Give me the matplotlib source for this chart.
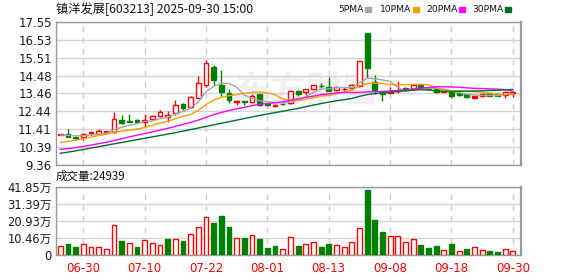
import matplotlib
matplotlib.use('Agg')
import matplotlib.pyplot as plt
from matplotlib.patches import Rectangle
import numpy as np

plt.rcParams['font.family'] = ['DejaVu Sans', 'Noto Sans CJK SC']

# daily candles, 60 trading days (prices in yuan)
opens = [11.10, 11.13, 10.98, 10.97, 11.20, 11.15, 11.25, 11.23, 11.93, 11.86,
         11.93, 11.85, 12.01, 12.18, 12.10, 12.31, 12.86, 12.69, 13.21, 13.93,
         14.98, 13.97, 13.46, 12.98, 13.00, 12.98, 13.40, 12.86, 12.76, 12.87,
         12.89, 13.59, 13.52, 13.74, 13.91, 13.84, 13.65, 13.69, 13.78, 13.89,
         16.90, 14.12, 13.55, 13.50, 13.58, 13.76, 13.74, 13.93, 13.78, 13.74,
         13.55, 13.59, 13.46, 13.40, 13.21, 13.30, 13.46, 13.40, 13.36, 13.46]
highs = [11.16, 11.42, 10.98, 11.20, 11.32, 11.40, 11.33, 12.39, 12.20, 12.26,
         12.02, 12.30, 12.22, 12.50, 12.47, 13.10, 12.93, 13.34, 14.45, 15.36,
         15.10, 14.79, 13.70, 13.06, 13.00, 13.40, 13.40, 12.92, 12.88, 12.92,
         13.65, 13.65, 13.71, 13.97, 14.07, 14.40, 13.86, 13.80, 13.98, 15.30,
         16.90, 14.50, 13.65, 13.84, 14.15, 13.85, 13.99, 13.95, 13.80, 13.76,
         13.62, 13.60, 13.48, 13.42, 13.34, 13.44, 13.48, 13.42, 13.57, 13.58]
lows = [11.07, 10.96, 10.79, 10.79, 11.05, 11.13, 11.22, 11.17, 11.70, 11.80,
        11.75, 11.52, 11.96, 12.10, 11.82, 12.25, 12.50, 12.60, 13.17, 13.85,
        13.97, 13.30, 12.89, 12.78, 12.82, 12.90, 12.72, 12.76, 12.68, 12.80,
        12.83, 13.32, 13.39, 13.68, 13.77, 13.57, 13.57, 13.60, 13.68, 13.82,
        14.32, 13.45, 13.02, 13.46, 13.49, 13.68, 13.72, 13.76, 13.66, 13.46,
        13.52, 13.20, 13.30, 13.18, 13.17, 13.25, 13.30, 13.32, 13.20, 13.28]
closes = [11.12, 10.98, 10.89, 11.13, 11.25, 11.30, 11.28, 11.97, 11.78, 11.80,
          11.80, 11.92, 12.16, 12.37, 12.20, 12.77, 12.60, 13.23, 14.03, 15.23,
          14.22, 13.55, 13.08, 13.02, 12.97, 13.30, 12.79, 12.80, 12.79, 12.85,
          13.59, 13.42, 13.71, 13.97, 13.88, 13.61, 13.80, 13.72, 13.93, 15.30,
          14.89, 13.65, 13.40, 13.53, 13.61, 13.73, 13.97, 13.78, 13.69, 13.55,
          13.58, 13.32, 13.36, 13.26, 13.32, 13.42, 13.32, 13.34, 13.55, 13.55]
solid_red = [54, 55]

# moving averages
ma5 = [11.08, 11.06, 11.03, 11.05, 11.07, 11.11, 11.17, 11.39, 11.52, 11.63,
       11.73, 11.85, 11.89, 12.01, 12.09, 12.28, 12.42, 12.63, 12.97, 13.57,
       13.86, 14.05, 14.02, 13.82, 13.37, 13.18, 13.03, 12.98, 12.93, 12.91,
       12.96, 13.09, 13.27, 13.51, 13.71, 13.72, 13.79, 13.80, 13.79, 14.07,
       14.33, 14.30, 14.23, 14.15, 13.82, 13.58, 13.65, 13.72, 13.76, 13.74,
       13.71, 13.58, 13.50, 13.41, 13.37, 13.34, 13.34, 13.33, 13.39, 13.44]
ma10 = [10.65, 10.72, 10.78, 10.87, 10.95, 11.05, 11.12, 11.23, 11.30, 11.35,
        11.42, 11.51, 11.64, 11.76, 11.86, 12.01, 12.14, 12.26, 12.49, 12.83,
        13.07, 13.24, 13.33, 13.39, 13.47, 13.52, 13.54, 13.50, 13.38, 13.14,
        13.07, 13.06, 13.12, 13.22, 13.31, 13.34, 13.44, 13.53, 13.65, 13.89,
        14.02, 14.05, 14.02, 13.97, 13.94, 13.96, 13.97, 13.98, 13.96, 13.78,
        13.65, 13.62, 13.61, 13.59, 13.56, 13.53, 13.46, 13.42, 13.40, 13.40]
ma20 = [10.26, 10.30, 10.35, 10.42, 10.50, 10.58, 10.66, 10.76, 10.86, 10.97,
        11.07, 11.16, 11.26, 11.36, 11.46, 11.57, 11.68, 11.80, 11.93, 12.09,
        12.25, 12.37, 12.48, 12.58, 12.66, 12.76, 12.84, 12.88, 12.93, 12.98,
        13.07, 13.15, 13.23, 13.31, 13.39, 13.43, 13.49, 13.52, 13.51, 13.52,
        13.55, 13.55, 13.57, 13.60, 13.63, 13.65, 13.71, 13.76, 13.80, 13.84,
        13.84, 13.83, 13.81, 13.78, 13.75, 13.74, 13.72, 13.70, 13.68, 13.59]
ma30 = [10.03, 10.10, 10.17, 10.25, 10.33, 10.41, 10.49, 10.57, 10.65, 10.73,
        10.81, 10.89, 10.97, 11.05, 11.13, 11.21, 11.30, 11.39, 11.48, 11.57,
        11.66, 11.75, 11.84, 11.93, 12.02, 12.11, 12.20, 12.28, 12.36, 12.44,
        12.52, 12.60, 12.70, 12.79, 12.88, 12.96, 13.04, 13.10, 13.17, 13.29,
        13.39, 13.45, 13.49, 13.53, 13.57, 13.61, 13.65, 13.67, 13.66, 13.60,
        13.58, 13.57, 13.58, 13.59, 13.60, 13.61, 13.63, 13.64, 13.67, 13.69]

# volume in 万 shares, and bar colour (r = up, g = down)
volume = [5.6, 6.9, 5.0, 6.7, 5.0, 5.0, 3.5, 18.2, 8.8, 7.3,
          5.0, 9.2, 7.3, 6.3, 10.0, 10.0, 8.8, 13.2, 17.3, 23.6,
          20.0, 23.8, 17.5, 10.4, 10.6, 12.3, 10.0, 4.4, 5.6, 3.5,
          11.1, 5.6, 6.9, 7.9, 5.0, 6.9, 6.3, 5.0, 7.9, 16.7,
          40.1, 21.3, 14.4, 11.9, 11.9, 7.9, 9.8, 6.3, 4.4, 5.6,
          2.9, 6.9, 2.3, 3.8, 4.8, 2.9, 2.5, 1.9, 3.5, 2.49]
vol_dir = "rggrrrrrgrgrrrgrgrrrgggrgrgggrr" + "grrggrrrrgggrrrrgggrgrgrrggrr"

tick_idx = [3, 11, 19, 27, 35, 43, 51, 59]
tick_labels = ['06-30', '07-10', '07-22', '08-01', '08-13', '09-08', '09-18', '09-30']
price_ticks = [9.36, 10.39, 11.41, 12.44, 13.46, 14.48, 15.51, 16.53, 17.55]
vol_ticks = [0, 10.46, 20.93, 31.39, 41.85]
vol_tick_labels = ['0', '10.46万', '20.93万', '31.39万', '41.85万']

RED = '#ff0000'
GREEN = '#008000'
GRID = '#d4d4d4'
SPINE = '#9a9a9a'

W, H = 578, 276
fig = plt.figure(figsize=(W / 100, H / 100), dpi=100)
ax = fig.add_axes([56 / W, 1 - 165 / H, 465 / W, 143 / H])
axv = fig.add_axes([56 / W, 1 - 255 / H, 465 / W, 68 / H])

x = np.arange(len(closes))
o = np.array(opens)
c = np.array(closes)
up = c >= o
edge = [RED if u else GREEN for u in up]
face = []
for i, u in enumerate(up):
    if i in solid_red:
        face.append(RED)
    elif u:
        face.append('white')
    else:
        face.append(GREEN)
bottom = np.minimum(o, c)
height = np.maximum(np.abs(c - o), 0.012)

# watermark
ax.text(0.54, 0.52, '东方财富', transform=ax.transAxes, fontsize=26,
        fontweight='bold', color='#f0f0f0', ha='center', va='center',
        family=['Noto Sans CJK SC'], zorder=0)

ax.vlines(x, lows, highs, colors=edge, lw=1, zorder=2)
ax.bar(x, height, bottom=bottom, width=0.64, color=face, edgecolor=edge,
       linewidth=1, zorder=3)

ax.plot(x, ma5, color='#a6a6a6', lw=1, zorder=4)
ax.plot(x, ma10, color='#f0a000', lw=1, zorder=4)
ax.plot(x, ma20, color='#ff00ff', lw=1, zorder=4)
ax.plot(x, ma30, color='#006f2e', lw=1, zorder=4)

for a in (ax, axv):
    a.set_xlim(-0.56, 60.07)
    a.set_xticks(tick_idx)
    a.grid(axis='y', color=GRID, lw=1, ls='-', zorder=0)
    a.grid(axis='x', color='#cccccc', lw=1, ls=(0, (4, 4)), zorder=0)
    a.set_axisbelow(True)
    a.tick_params(length=0, labelsize=8.5, colors='#1a1a1a', pad=3)
    for s in a.spines.values():
        s.set_color(SPINE)
        s.set_linewidth(1)
    a.spines['right'].set_linewidth(1.6)

ax.set_ylim(9.36, 17.55)
ax.set_yticks(price_ticks)
ax.set_yticklabels(['%.2f' % v for v in price_ticks])
ax.set_xticklabels([])

vcol = [RED if d == 'r' else GREEN for d in vol_dir]
vface = ['white' if d == 'r' else GREEN for d in vol_dir]
axv.bar(x, volume, width=0.64, color=vface, edgecolor=vcol, linewidth=1, zorder=3)
axv.set_ylim(0, 41.85)
axv.set_yticks(vol_ticks)
axv.set_yticklabels(vol_tick_labels, fontsize=8.3)
axv.set_xticklabels(tick_labels, color=RED)
axv.tick_params(axis='x', colors=RED, pad=5)

fig.text(56 / W, 1 - 9 / H, '镇洋发展[603213] 2025-09-30 15:00', fontsize=8.8,
         ha='left', va='center', color='#111111', family=['Noto Sans CJK SC'])
fig.text(56 / W, 1 - 176 / H, '成交量:24939', fontsize=8.3,
         ha='left', va='center', color='#111111', family=['Noto Sans CJK SC'])

# moving-average key
key = [('5PMA', '#a6a6a6', 338, 365), ('10PMA', '#f0a000', 380, 413),
       ('20PMA', '#ff00ff', 426, 459), ('30PMA', '#006f2e', 472, 505)]
for name, col, tx, sx in key:
    fig.text(tx / W, 1 - 10 / H, name, fontsize=6.6, ha='left', va='center',
             color='#111111')
    fig.patches.append(Rectangle((sx / W, 1 - 12 / H), 6 / W, 5 / H,
                                 transform=fig.transFigure, color=col))

fig.savefig('out.png', dpi=100)
